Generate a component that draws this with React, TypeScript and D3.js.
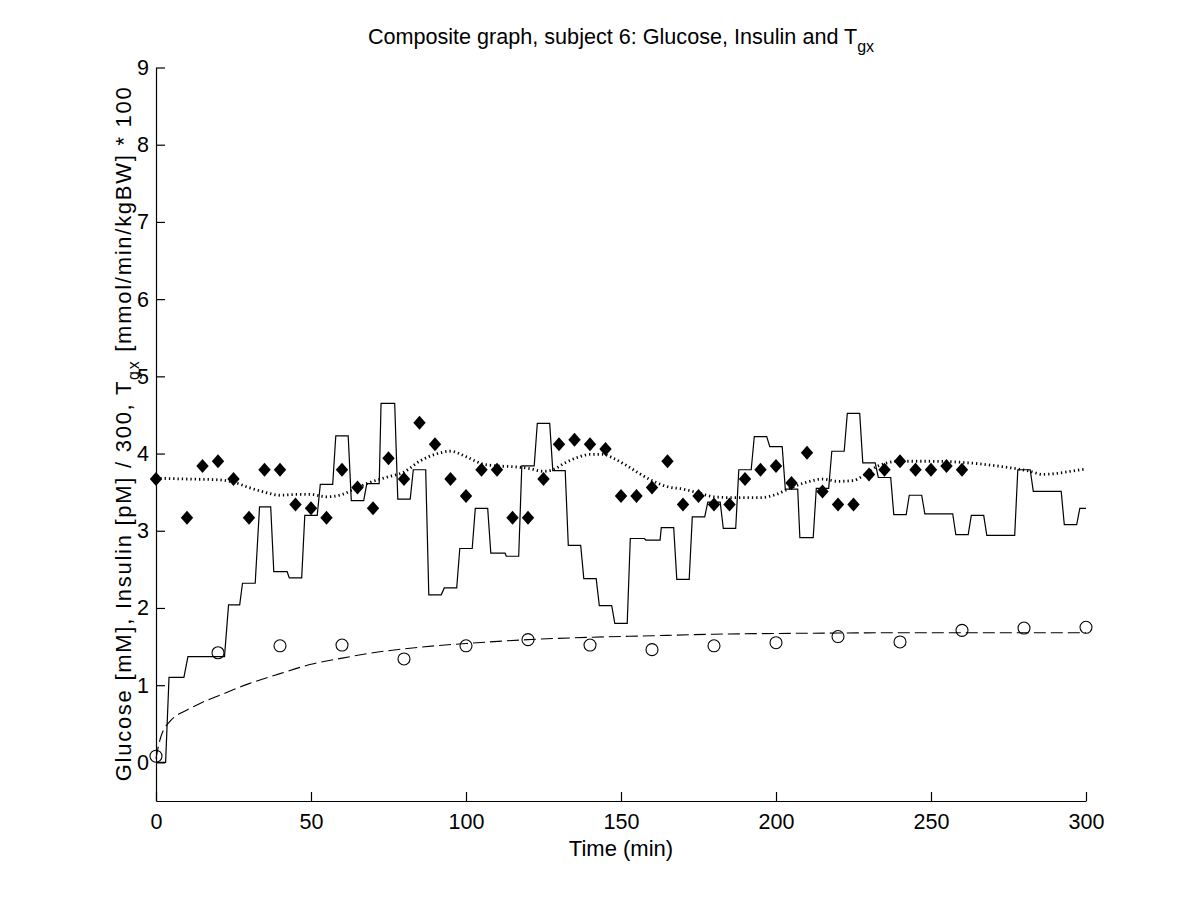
import React, { useRef, useEffect } from "react";
import * as d3 from "d3";

// measured Tgx (filled diamonds)
const tgxTimes = [0, 10, 15, 20, 25, 30, 35, 40, 45, 50, 55, 60, 65, 70, 75, 80, 85, 90, 95, 100, 105, 110, 115, 120, 125, 130, 135, 140, 145, 150, 155, 160, 165, 170, 175, 180, 185, 190, 195, 200, 205, 210, 215, 220, 225, 230, 235, 240, 245, 250, 255, 260];
const tgxValues = [3.67, 3.17, 3.84, 3.9, 3.67, 3.17, 3.79, 3.79, 3.34, 3.29, 3.17, 3.79, 3.56, 3.29, 3.94, 3.67, 4.4, 4.12, 3.67, 3.45, 3.79, 3.79, 3.17, 3.17, 3.67, 4.12, 4.18, 4.12, 4.06, 3.45, 3.45, 3.56, 3.9, 3.34, 3.45, 3.34, 3.34, 3.67, 3.79, 3.84, 3.62, 4.01, 3.51, 3.34, 3.34, 3.73, 3.79, 3.9, 3.79, 3.79, 3.84, 3.79];

// model Tgx (dotted)
const tgxModelTimes = [0, 10, 20, 25, 30, 35, 40, 45, 50, 55, 60, 65, 70, 75, 80, 85, 90, 95, 100, 105, 110, 115, 120, 125, 128, 132, 136, 140, 144, 148, 152, 156, 160, 165, 170, 175, 180, 185, 190, 195, 200, 205, 210, 215, 220, 225, 228, 233, 240, 250, 262, 273, 282, 286, 290, 295, 300];
const tgxModelValues = [3.68, 3.67, 3.66, 3.63, 3.56, 3.5, 3.46, 3.47, 3.47, 3.44, 3.47, 3.56, 3.64, 3.7, 3.76, 3.9, 3.99, 4.03, 3.96, 3.87, 3.84, 3.83, 3.81, 3.77, 3.79, 3.88, 3.95, 3.99, 3.99, 3.93, 3.84, 3.74, 3.65, 3.57, 3.54, 3.49, 3.44, 3.43, 3.43, 3.43, 3.47, 3.56, 3.63, 3.67, 3.64, 3.65, 3.71, 3.84, 3.9, 3.9, 3.88, 3.83, 3.77, 3.73, 3.74, 3.77, 3.8];

// insulin / 300 (solid stairs)
const insulinTimes = [0, 3.1, 4.2, 9, 10.3, 22.1, 23.4, 27, 27.9, 32, 33.4, 37, 38, 42.3, 43, 47, 48, 52, 53, 57, 58, 62, 63, 67, 68, 72, 72.6, 77, 78, 82, 83, 87, 88, 92, 93, 97, 98, 102, 103, 107, 108, 112.6, 113, 117, 118, 122, 123, 127, 128, 132, 133, 137, 138, 142, 143, 147, 148, 152, 153, 157.5, 158, 162.6, 163, 167, 168, 172, 173, 177, 178, 182, 183, 187, 188, 192, 193, 197, 198, 202, 203, 207, 207.7, 212, 213, 217, 218, 222, 223, 227, 228, 232, 233, 237, 238, 242, 243, 247, 248, 257, 258, 262, 263, 267, 268, 277, 278, 282, 283, 292, 293, 297, 298, 300];
const insulinValues = [0, 0, 1.1, 1.1, 1.37, 1.37, 2.04, 2.04, 2.32, 2.32, 3.31, 3.31, 2.47, 2.47, 2.39, 2.39, 3.2, 3.2, 3.6, 3.6, 4.23, 4.23, 3.39, 3.39, 3.61, 3.61, 4.65, 4.65, 3.41, 3.41, 3.79, 3.79, 2.17, 2.17, 2.26, 2.26, 2.77, 2.77, 3.29, 3.29, 2.71, 2.71, 2.67, 2.67, 3.84, 3.84, 4.39, 4.39, 3.78, 3.78, 2.81, 2.81, 2.38, 2.38, 2.03, 2.03, 1.8, 1.8, 2.9, 2.9, 2.88, 2.88, 3.04, 3.04, 2.37, 2.37, 3.18, 3.18, 3.37, 3.37, 3.03, 3.03, 3.79, 3.79, 4.22, 4.22, 4.09, 4.09, 3.54, 3.54, 2.91, 2.91, 3.55, 3.55, 4.03, 4.03, 4.52, 4.52, 3.88, 3.88, 3.69, 3.69, 3.21, 3.21, 3.46, 3.46, 3.22, 3.22, 2.95, 2.95, 3.2, 3.2, 2.94, 2.94, 3.79, 3.79, 3.51, 3.51, 3.08, 3.08, 3.29, 3.29];

// measured glucose (open circles)
const glucoseTimes = [0, 20, 40, 60, 80, 100, 120, 140, 160, 180, 200, 220, 240, 260, 280, 300];
const glucoseValues = [0.08, 1.42, 1.51, 1.52, 1.34, 1.51, 1.59, 1.52, 1.46, 1.51, 1.55, 1.63, 1.56, 1.71, 1.74, 1.75];

// model glucose (dashed)
const glucoseModelTimes = [0, 1, 2, 3, 4, 6, 8, 10, 15, 20, 30, 40, 50, 60, 70, 80, 90, 100, 120, 140, 160, 180, 200, 220, 240, 260, 280, 300];
const glucoseModelValues = [0.05, 0.25, 0.38, 0.46, 0.51, 0.59, 0.64, 0.68, 0.78, 0.86, 1.02, 1.15, 1.27, 1.35, 1.42, 1.47, 1.51, 1.54, 1.59, 1.62, 1.64, 1.66, 1.67, 1.675, 1.68, 1.68, 1.68, 1.68];

const xTicks = [0, 50, 100, 150, 200, 250, 300];
const yTicks = [0, 1, 2, 3, 4, 5, 6, 7, 8, 9];

const FONT = "'Liberation Sans', Arial, Helvetica, sans-serif";

const App = () => {
  const svgRef = useRef<SVGSVGElement>(null);

  useEffect(() => {
    document.body.style.margin = "0";
    const svg = d3.select(svgRef.current);
    svg.selectAll("*").remove();

    const left = 156, right = 1086, top = 67.5, bottom = 801;

    const x = d3.scaleLinear().domain([0, 300]).range([left, right]);
    const y = d3.scaleLinear().domain([-0.5, 9]).range([bottom, top]);

    svg.append("rect").attr("width", 1200).attr("height", 900).attr("fill", "white");

    const g = svg.append("g");

    // axes (MATLAB style: ticks pointing inward, no box)
    const xAxis = g.append("g").attr("transform", `translate(0,${bottom})`)
      .call(d3.axisBottom(x).tickValues(xTicks).tickSizeInner(-9).tickSizeOuter(0).tickPadding(13));
    const yAxis = g.append("g").attr("transform", `translate(${left},0)`)
      .call(d3.axisLeft(y).tickValues(yTicks).tickSizeInner(-9).tickSizeOuter(0).tickPadding(7));
    [xAxis, yAxis].forEach((a) => {
      a.select(".domain").attr("stroke", "#000").attr("stroke-width", 1.2);
      a.selectAll(".tick line").attr("stroke", "#000").attr("stroke-width", 1.2);
      a.selectAll(".tick text").attr("fill", "#000").attr("font-size", 21.5).attr("font-family", FONT);
    });

    const glucoseModel = glucoseModelTimes.map((t, i) => [t, glucoseModelValues[i]] as [number, number]);
    const tgxModel = tgxModelTimes.map((t, i) => [t, tgxModelValues[i]] as [number, number]);
    const insulin = insulinTimes.map((t, i) => [t, insulinValues[i]] as [number, number]);

    const smooth = d3.line<[number, number]>().x((d) => x(d[0])).y((d) => y(d[1])).curve(d3.curveMonotoneX);
    const straight = d3.line<[number, number]>().x((d) => x(d[0])).y((d) => y(d[1]));

    // insulin stairs
    g.append("path").attr("d", straight(insulin)).attr("fill", "none")
      .attr("stroke", "#000").attr("stroke-width", 1.2);

    // glucose model
    g.append("path").attr("d", smooth(glucoseModel)).attr("fill", "none")
      .attr("stroke", "#000").attr("stroke-width", 1.1).attr("stroke-dasharray", "12,5");

    // Tgx model
    g.append("path").attr("d", smooth(tgxModel)).attr("fill", "none")
      .attr("stroke", "#000").attr("stroke-width", 2.8).attr("stroke-dasharray", "1.3,3");

    // glucose measurements
    g.selectAll(".glc").data(glucoseTimes).enter().append("circle")
      .attr("cx", (d) => x(d)).attr("cy", (d, i) => y(glucoseValues[i]))
      .attr("r", 6).attr("fill", "none").attr("stroke", "#000").attr("stroke-width", 1.1);

    // Tgx measurements
    g.selectAll(".tgx").data(tgxTimes).enter().append("path")
      .attr("transform", (d, i) => `translate(${x(d)},${y(tgxValues[i])})`)
      .attr("d", "M0,-7L6.2,0L0,7L-6.2,0Z").attr("fill", "#000");

    // title
    const title = svg.append("text").attr("x", (left + right) / 2).attr("y", 44)
      .attr("text-anchor", "middle").attr("font-family", FONT).attr("font-size", 21.6).attr("fill", "#000");
    title.append("tspan").text("Composite graph, subject 6: Glucose, Insulin and T");
    title.append("tspan").attr("font-size", 16).attr("dy", 8).text("gx");

    // x label
    svg.append("text").attr("x", (left + right) / 2).attr("y", 856)
      .attr("text-anchor", "middle").attr("font-family", FONT).attr("font-size", 22).attr("fill", "#000")
      .text("Time (min)");

    // y label
    const yl = svg.append("text").attr("transform", `translate(131,${(top + bottom) / 2}) rotate(-90)`)
      .attr("text-anchor", "middle").attr("font-family", FONT).attr("font-size", 22).attr("fill", "#000")
      .attr("textLength", 694).attr("lengthAdjust", "spacing");
    yl.append("tspan").text("Glucose [mM], Insulin [pM] / 300, T");
    yl.append("tspan").attr("font-size", 16).attr("dy", 8).text("gx");
    yl.append("tspan").attr("dy", -8).text(" [mmol/min/kgBW] * 100");
  }, []);

  return <svg ref={svgRef} width={1200} height={900} style={{ display: "block" }}></svg>;
};

export default App;
